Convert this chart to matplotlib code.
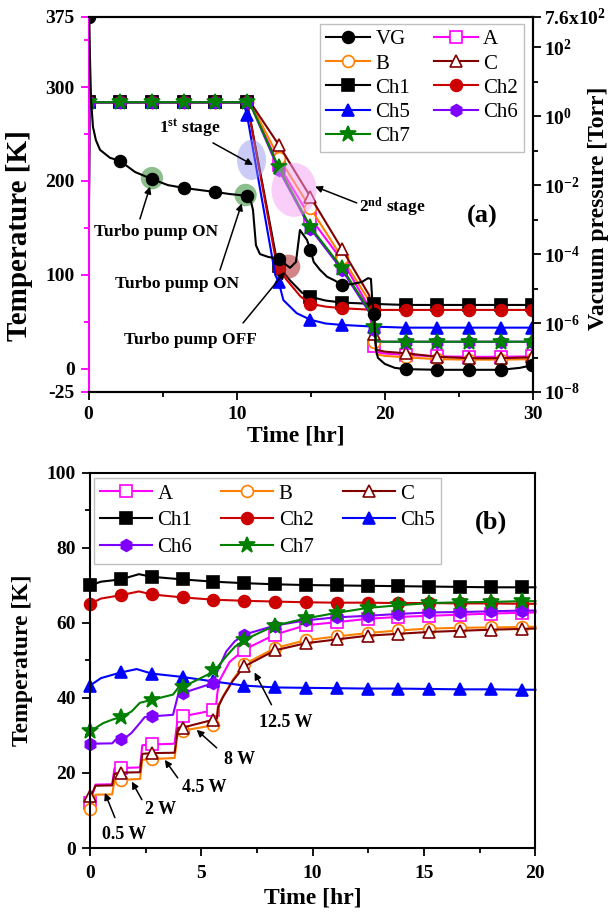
import numpy as np
import matplotlib
matplotlib.use('Agg')
import matplotlib.pyplot as plt
from matplotlib.patches import Ellipse

plt.rcParams['font.family'] = ['Liberation Serif', 'DejaVu Serif']
plt.rcParams['mathtext.fontset'] = 'custom'
plt.rcParams['mathtext.rm'] = 'Liberation Serif'
plt.rcParams['mathtext.bf'] = 'Liberation Serif:bold'
plt.rcParams['mathtext.it'] = 'Liberation Serif:italic'

# ---------------- (a) cool-down, 0-30 hr ----------------
MARK_A = [0.05, 2.14, 4.28, 6.42, 8.56, 10.7, 12.84, 14.98, 17.12, 19.26,
          21.4, 23.54, 25.68, 27.82, 29.96]

vg_t = [0.05, 0.1, 0.17, 0.3, 0.5, 0.78, 1.45, 2.14, 3.14, 4.28, 5.36, 6.42,
        7.52, 8.56, 9.55, 10.7, 10.9, 11.1, 11.3, 11.57, 12.11, 12.84, 13.6,
        14.0, 14.27, 14.54, 14.74, 14.98, 15.2, 15.62, 16.1, 16.63, 17.12,
        17.78, 18.45, 18.86, 19.06, 19.15, 19.26, 19.4, 19.53, 20.0, 20.68,
        21.4, 23.54, 25.68, 27.82, 29.1, 29.96, 30.0]
vg_p = [760, 43, 3.0, 0.49, 0.2, 0.105, 0.062, 0.05, 0.024, 0.015, 0.010,
        0.0083, 0.0072, 0.0063, 0.0055, 0.0049, 0.0043, 0.0019, 1.8e-4, 1e-4,
        8.3e-5, 7.2e-5, 4.0e-5, 5.9e-5, 5.0e-4, 3.4e-4, 2.6e-4, 1.3e-4,
        5.9e-5, 3.5e-5, 2.2e-5, 1.7e-5, 1.26e-5, 1.35e-5, 1.55e-5, 2.0e-5,
        1.9e-5, 4.7e-6, 1.8e-6, 1.7e-7, 9.8e-8, 6.5e-8, 5.0e-8, 4.6e-8,
        4.4e-8, 4.4e-8, 4.4e-8, 5.0e-8, 6.0e-8, 6.9e-8]

# second stage group (A, B, C, Ch6, Ch7) share time knots
grp_t = [0.0, 0.05, 2.14, 4.28, 6.42, 8.56, 10.7, 11.0, 12.84, 14.98, 17.12,
         18.95, 19.26, 19.45, 20.0, 21.4, 23.54, 25.68, 27.82, 29.96, 30.0]
a_T = [27, 284, 284, 284, 284, 284, 284, 280, 217, 160.5, 115, 65, 24, 17.5,
       16, 14.5, 13, 12.5, 12.5, 13, 13]
b_T = [27, 284, 284, 284, 284, 284, 284, 281, 225, 171, 118, 72, 28.6, 15,
       13.5, 12, 10, 9.5, 9.5, 10, 10]
c_T = [27, 284, 284, 284, 284, 284, 284, 282, 238.5, 183, 127, 78, 36.5, 20,
       18, 16.3, 12.6, 11, 11, 12, 12]
ch6_T = [27, 284, 284, 284, 284, 284, 284, 279, 212, 149, 105, 60, 41, 29,
         28.6, 28.6, 28.6, 28.6, 28.6, 28.6, 28.6]
ch7_T = [27, 284, 284, 284, 284, 284, 284, 279, 214.5, 151, 107, 62, 44.6, 29,
         28.6, 28.6, 28.6, 28.6, 28.6, 28.6, 28.6]

ch1_t = [0.0, 0.05, 2.14, 4.28, 6.42, 8.56, 10.7, 12.7, 12.84, 13.6, 14.4,
         14.98, 16.0, 17.12, 19.26, 21.4, 23.54, 25.68, 27.82, 29.96, 30.0]
ch1_T = [27, 284, 284, 284, 284, 284, 284, 116, 109, 94, 81, 76.5, 72.5, 70.3,
         68.9, 67.8, 67.8, 67.8, 67.8, 67.8, 67.8]
ch2_t = [0.0, 0.05, 2.14, 4.28, 6.42, 8.56, 10.7, 12.65, 12.84, 13.4, 14.3,
         14.98, 16.0, 17.12, 19.26, 21.4, 23.54, 25.68, 27.82, 29.96, 30.0]
ch2_T = [0, 284, 284, 284, 284, 284, 284, 115, 106, 94, 77, 69, 66, 64.3,
         62.5, 62.5, 62.5, 62.5, 62.5, 62.5, 62.5]
ch5_t = [0.0, 0.05, 2.14, 4.28, 6.42, 8.56, 10.45, 10.7, 12.6, 12.84, 13.15,
         14.05, 14.98, 16.0, 17.12, 19.26, 21.4, 23.54, 25.68, 27.82, 29.96, 30.0]
ch5_T = [27, 284, 284, 284, 284, 284, 284, 270, 100, 92, 73, 59, 52, 48, 46.5,
         44.7, 43.6, 43.6, 43.6, 43.6, 43.6, 43.6]

# ---------------- (b) heat load test, 0-20 hr ----------------
MARK_B = [0.0, 1.39, 2.77, 4.16, 5.54, 6.93, 8.31, 9.7, 11.08, 12.47, 13.85,
          15.24, 16.62, 18.01, 19.39]

ba_t = [0.0, 0.15, 0.25, 1.0, 1.1, 1.39, 2.25, 2.35, 2.77, 3.8, 3.95, 4.16,
        5.54, 5.65, 5.72, 5.82, 6.27, 6.93, 8.31, 9.7, 11.08, 12.47, 13.85,
        15.24, 16.62, 18.01, 19.39, 20.0]
ba_T = [12, 15, 16.9, 17, 21.2, 21.3, 21.5, 27.4, 27.6, 27.8, 35, 35.1, 36.7,
        37.2, 41.3, 44.7, 49.6, 52.9, 56.9, 59.4, 60.2, 61.1, 61.6, 61.9, 62.2,
        62.5, 62.7, 62.8]
bbc_t = [0.0, 0.15, 0.25, 1.0, 1.1, 1.39, 2.25, 2.35, 2.77, 3.8, 3.95, 4.16,
         5.54, 5.7, 5.75, 5.97, 6.42, 6.93, 8.31, 9.7, 11.08, 12.47, 13.85,
         15.24, 16.62, 18.01, 19.39, 20.0]
bb_T = [10.3, 12.5, 14.2, 14.3, 18, 18.2, 18.4, 23.5, 23.7, 24, 31, 31.3, 32.7,
        33.3, 37.8, 40.4, 44.9, 49, 53.3, 55.4, 56.4, 57.3, 58.0, 58.5, 58.7,
        58.8, 58.9, 59.0]
bc_T = [13.8, 15.2, 16.6, 16.7, 19.8, 20.1, 20.2, 25.1, 25.3, 25.4, 32, 32.1,
        34.2, 34.6, 37.5, 40.2, 44.6, 48.4, 52.7, 54.6, 55.6, 56.6, 57.1, 57.6,
        57.9, 58.2, 58.4, 58.5]

b1_t = [0.0, 0.5, 1.39, 2.2, 2.77, 4.16, 5.54, 6.93, 8.31, 9.7, 11.08, 12.47,
        13.85, 15.24, 16.62, 18.01, 19.39, 20.0]
b1_T = [70.0, 71.0, 71.6, 73.0, 72.3, 71.6, 71.0, 70.6, 70.3, 70.1, 70.0, 69.9,
        69.8, 69.7, 69.6, 69.5, 69.5, 69.5]
b2_T = [65.1, 66.5, 67.4, 68.4, 67.6, 66.8, 66.2, 65.9, 65.7, 65.5, 65.4, 65.4,
        65.3, 65.3, 65.2, 65.2, 65.1, 65.1]
b5_t = [0.0, 0.5, 1.39, 2.1, 2.77, 4.16, 5.54, 6.93, 8.31, 9.7, 11.08, 12.47,
        13.85, 15.24, 16.62, 18.01, 19.39, 20.0]
b5_T = [43.3, 45.3, 46.8, 47.7, 46.5, 45.6, 44.4, 43.3, 42.8, 42.7, 42.6, 42.5,
        42.5, 42.4, 42.3, 42.3, 42.2, 42.2]
b6_t = [0.0, 1.0, 1.15, 1.39, 1.64, 1.87, 2.24, 2.46, 2.77, 3.73, 3.96, 4.16,
        5.45, 5.54, 5.75, 6.12, 6.5, 6.93, 8.31, 9.7, 11.08, 12.47, 13.85,
        15.24, 16.62, 18.01, 19.39, 20.0]
b6_T = [27.8, 27.9, 28.9, 29.1, 29.6, 30.7, 33.3, 34.9, 35.1, 35.5, 40.9, 41.3,
        43.8, 44.0, 47.5, 52.4, 55.1, 56.9, 59.3, 60.7, 61.5, 61.9, 62.4, 62.8,
        62.9, 63.1, 63.3, 63.3]
b7_t = [0.0, 0.6, 1.04, 1.39, 1.87, 2.24, 2.77, 3.73, 3.96, 4.16, 5.45, 5.54,
        5.75, 6.12, 6.5, 6.93, 8.31, 9.7, 11.08, 12.47, 13.85, 15.24, 16.62,
        18.01, 19.39, 20.0]
b7_T = [31.1, 33.3, 34.3, 34.9, 36.4, 38.7, 39.5, 40.9, 42.7, 42.9, 46.7, 47.5,
        48.4, 51.1, 53.6, 55.5, 59.3, 61.2, 62.7, 64.0, 64.7, 65.3, 65.5, 65.6,
        65.8, 65.8]

# label -> (colour, marker, face)
STYLE = {
    'VG': ('black', 'o', 'black'),
    'A': ('#ff00ff', 's', 'white'),
    'B': ('#ff8000', 'o', 'white'),
    'C': ('#800000', '^', 'white'),
    'Ch1': ('black', 's', 'black'),
    'Ch2': ('#cc0000', 'o', '#cc0000'),
    'Ch5': ('#0000ff', '^', '#0000ff'),
    'Ch6': ('#8000ff', 'h', '#8000ff'),
    'Ch7': ('#008000', '*', '#008000'),
}
TICK_FS = 14
LABEL_FS = 17


def mark_idx(t, marks):
    return [i for i, v in enumerate(t) if np.isclose(v, marks).any()]


def draw(ax, name, t, y, marks):
    c, m, fc = STYLE[name]
    ms = 12 if m == '*' else 8.5
    line, = ax.plot(t, y, color=c, lw=1.5, marker=m, ms=ms, mfc=fc, mec=c,
                    mew=1.2, markevery=mark_idx(t, marks), label=name)
    return line


def style_ticks(a):
    a.tick_params(which='both', direction='out', width=1.3, right=False,
                  top=False)
    a.tick_params(which='major', length=6, pad=4)
    a.tick_params(which='minor', length=3.5)
    for s in a.spines.values():
        s.set_linewidth(1.5)


fig = plt.figure(figsize=(6.16, 9.15), dpi=100)
ax = fig.add_axes([0.1437, 0.5716, 0.7216, 0.41])
ax2 = ax.twinx()
bx = fig.add_axes([0.146, 0.0732, 0.7232, 0.41])

# ---------- panel (a) ----------
h = {}
h['A'] = draw(ax, 'A', grp_t, a_T, MARK_A)
h['B'] = draw(ax, 'B', grp_t, b_T, MARK_A)
h['C'] = draw(ax, 'C', grp_t, c_T, MARK_A)
h['Ch1'] = draw(ax, 'Ch1', ch1_t, ch1_T, MARK_A)
h['Ch2'] = draw(ax, 'Ch2', ch2_t, ch2_T, MARK_A)
h['Ch5'] = draw(ax, 'Ch5', ch5_t, ch5_T, MARK_A)
h['Ch6'] = draw(ax, 'Ch6', grp_t, ch6_T, MARK_A)
h['Ch7'] = draw(ax, 'Ch7', grp_t, ch7_T, MARK_A)
h['VG'] = draw(ax2, 'VG', vg_t, vg_p, MARK_A)

ax.set_xlim(0, 30)
ax.set_ylim(-25, 375)
ax.set_xticks([0, 10, 20, 30], labels=['0', '10', '20', '30'],
              fontsize=TICK_FS, fontweight='bold')
ax.set_xticks([5, 15, 25], minor=True)
ax.set_yticks([-25, 0, 100, 200, 300, 375],
              labels=['-25', '0', '100', '200', '300', '375'],
              fontsize=TICK_FS, fontweight='bold')
ax.set_yticks([50, 150, 250, 350], minor=True)
ax.set_xlabel('Time [hr]', fontsize=LABEL_FS, fontweight='bold')
ax.xaxis.set_label_coords(0.467, -0.09)
ax.set_ylabel('Temperature [K]', fontsize=21, fontweight='bold')
ax.yaxis.set_label_coords(-0.125, 0.416)
style_ticks(ax)
ax.tick_params(axis='y', which='both', colors='#ff00ff', labelcolor='black')
ax.spines['left'].set_color('#ff00ff')

ax2.set_yscale('log')
ax2.set_ylim(1e-8, 760)
ax2.set_yticks([1e-8, 1e-6, 1e-4, 1e-2, 1, 1e2, 760],
               labels=[r'$\mathbf{10^{-8}}$', r'$\mathbf{10^{-6}}$',
                       r'$\mathbf{10^{-4}}$', r'$\mathbf{10^{-2}}$',
                       r'$\mathbf{10^{0}}$', r'$\mathbf{10^{2}}$',
                       r'$\mathbf{7.6x10^{2}}$'],
               fontsize=TICK_FS)
ax2.set_yticks([1e-7, 1e-5, 1e-3, 1e-1, 10], minor=True)
ax2.yaxis.set_minor_formatter(plt.NullFormatter())
ax2.tick_params(which='both', direction='out', width=1.3, left=False)
ax2.tick_params(which='major', length=6, pad=2)
ax2.tick_params(which='minor', length=3.5)
ax2.spines['left'].set_visible(False)
for s in ['right', 'top', 'bottom']:
    ax2.spines[s].set_linewidth(1.5)
ax2.set_ylabel('Vacuum pressure [Torr]', fontsize=LABEL_FS,
               fontweight='bold')
ax2.yaxis.set_label_coords(1.124, 0.49)

# highlight spots
spots = [((4.28, 203), 1.5, 24, '#2e8b2e', 0.55),
         ((10.6, 185), 1.5, 24, '#2e8b2e', 0.55),
         ((11.0, 222.5), 1.96, 42.7, '#8c8cf0', 0.45),
         ((13.87, 190.5), 3.04, 57.6, '#f4a0f4', 0.5),
         ((13.48, 108.7), 1.62, 25.6, '#b02020', 0.55)]
for xy, w, hh, col, al in spots:
    ax.add_patch(Ellipse(xy, w, hh, facecolor=col, edgecolor='none',
                         alpha=al, zorder=5))

arw = dict(arrowstyle='-|>', color='black', lw=1.1, mutation_scale=10,
           shrinkA=0, shrinkB=0)
ann_a = [('Turbo pump ON', (4.55, 146), (3.47, 159.5), (4.15, 194)),
         ('Turbo pump ON', (6.0, 90), (8.87, 105), (10.34, 176)),
         ('Turbo pump OFF', (6.85, 30.5), (10.43, 48.6), (13.26, 103)),
         (r'1$^{\mathbf{st}}$ stage', (6.85, 256.6), (8.4, 240.6), (11.1, 217)),
         (r'2$^{\mathbf{nd}}$ stage', (20.5, 171.3), (18.1, 176.6), (15.29, 194))]
for txt, tpos, tail, head in ann_a:
    ax.text(*tpos, txt, ha='center', va='center', fontsize=12.5,
            fontweight='bold', zorder=6)
    ax.annotate('', xy=head, xytext=tail, arrowprops=arw, zorder=6)
ax.text(0.885, 0.467, '(a)', transform=ax.transAxes, ha='center',
        va='center', fontsize=19, fontweight='bold')

order_a = ['VG', 'B', 'Ch1', 'Ch5', 'Ch7', 'A', 'C', 'Ch2', 'Ch6']
leg = ax2.legend([h[k] for k in order_a], order_a, ncol=2, loc='upper left',
                 bbox_to_anchor=(0.521, 0.982), fontsize=15, frameon=True,
                 fancybox=False, edgecolor='#c0c0c0', framealpha=1,
                 handlelength=2.1, handletextpad=0.25, labelspacing=0.22,
                 columnspacing=1.15, borderpad=0.3, borderaxespad=0)
leg.get_frame().set_linewidth(1.0)

# ---------- panel (b) ----------
g = {}
g['A'] = draw(bx, 'A', ba_t, ba_T, MARK_B)
g['B'] = draw(bx, 'B', bbc_t, bb_T, MARK_B)
g['C'] = draw(bx, 'C', bbc_t, bc_T, MARK_B)
g['Ch1'] = draw(bx, 'Ch1', b1_t, b1_T, MARK_B)
g['Ch2'] = draw(bx, 'Ch2', b1_t, b2_T, MARK_B)
g['Ch5'] = draw(bx, 'Ch5', b5_t, b5_T, MARK_B)
g['Ch6'] = draw(bx, 'Ch6', b6_t, b6_T, MARK_B)
g['Ch7'] = draw(bx, 'Ch7', b7_t, b7_T, MARK_B)
for ln in g.values():
    ln.set_clip_on(False)

bx.set_xlim(0, 20)
bx.set_ylim(0, 100)
bx.set_xticks([0, 5, 10, 15, 20], labels=['0', '5', '10', '15', '20'],
              fontsize=TICK_FS, fontweight='bold')
bx.set_xticks([2.5, 7.5, 12.5, 17.5], minor=True)
bx.set_yticks([0, 20, 40, 60, 80, 100],
              labels=['0', '20', '40', '60', '80', '100'],
              fontsize=TICK_FS, fontweight='bold')
bx.set_yticks([10, 30, 50, 70, 90], minor=True)
bx.set_xlabel('Time [hr]', fontsize=LABEL_FS, fontweight='bold')
bx.xaxis.set_label_coords(0.5, -0.105)
bx.set_ylabel('Temperature [K]', fontsize=LABEL_FS, fontweight='bold')
bx.yaxis.set_label_coords(-0.128, 0.5)
style_ticks(bx)
bx.tick_params(axis='x', which='major', pad=6)

ann_b = [('0.5 W', (1.55, 3.5), (1.12, 8.1), (0.67, 14.7)),
         ('2 W', (3.18, 10.2), (2.33, 12.9), (1.88, 17.7)),
         ('4.5 W', (5.13, 16.1), (3.94, 18.7), (3.36, 23.5)),
         ('8 W', (6.72, 23.5), (5.69, 26.7), (4.79, 31.5)),
         ('12.5 W', (8.8, 33.4), (8.15, 38.2), (7.39, 46.8))]
for txt, tpos, tail, head in ann_b:
    bx.text(*tpos, txt, ha='center', va='center', fontsize=13,
            fontweight='bold', zorder=6)
    bx.annotate('', xy=head, xytext=tail, arrowprops=arw, zorder=6)
bx.text(0.9, 0.869, '(b)', transform=bx.transAxes, ha='center',
        va='center', fontsize=19, fontweight='bold')

order_b = ['A', 'Ch1', 'Ch6', 'B', 'Ch2', 'Ch7', 'C', 'Ch5']
leg2 = bx.legend([g[k] for k in order_b], order_b, ncol=3, loc='upper left',
                 bbox_to_anchor=(0.009, 0.987), fontsize=15, frameon=True,
                 fancybox=False, edgecolor='#c0c0c0', framealpha=1,
                 handlelength=2.5, handletextpad=0.25, labelspacing=0.35,
                 columnspacing=1.4, borderpad=0.3, borderaxespad=0)
leg2.get_frame().set_linewidth(1.0)

fig.savefig('out.png', dpi=100)
